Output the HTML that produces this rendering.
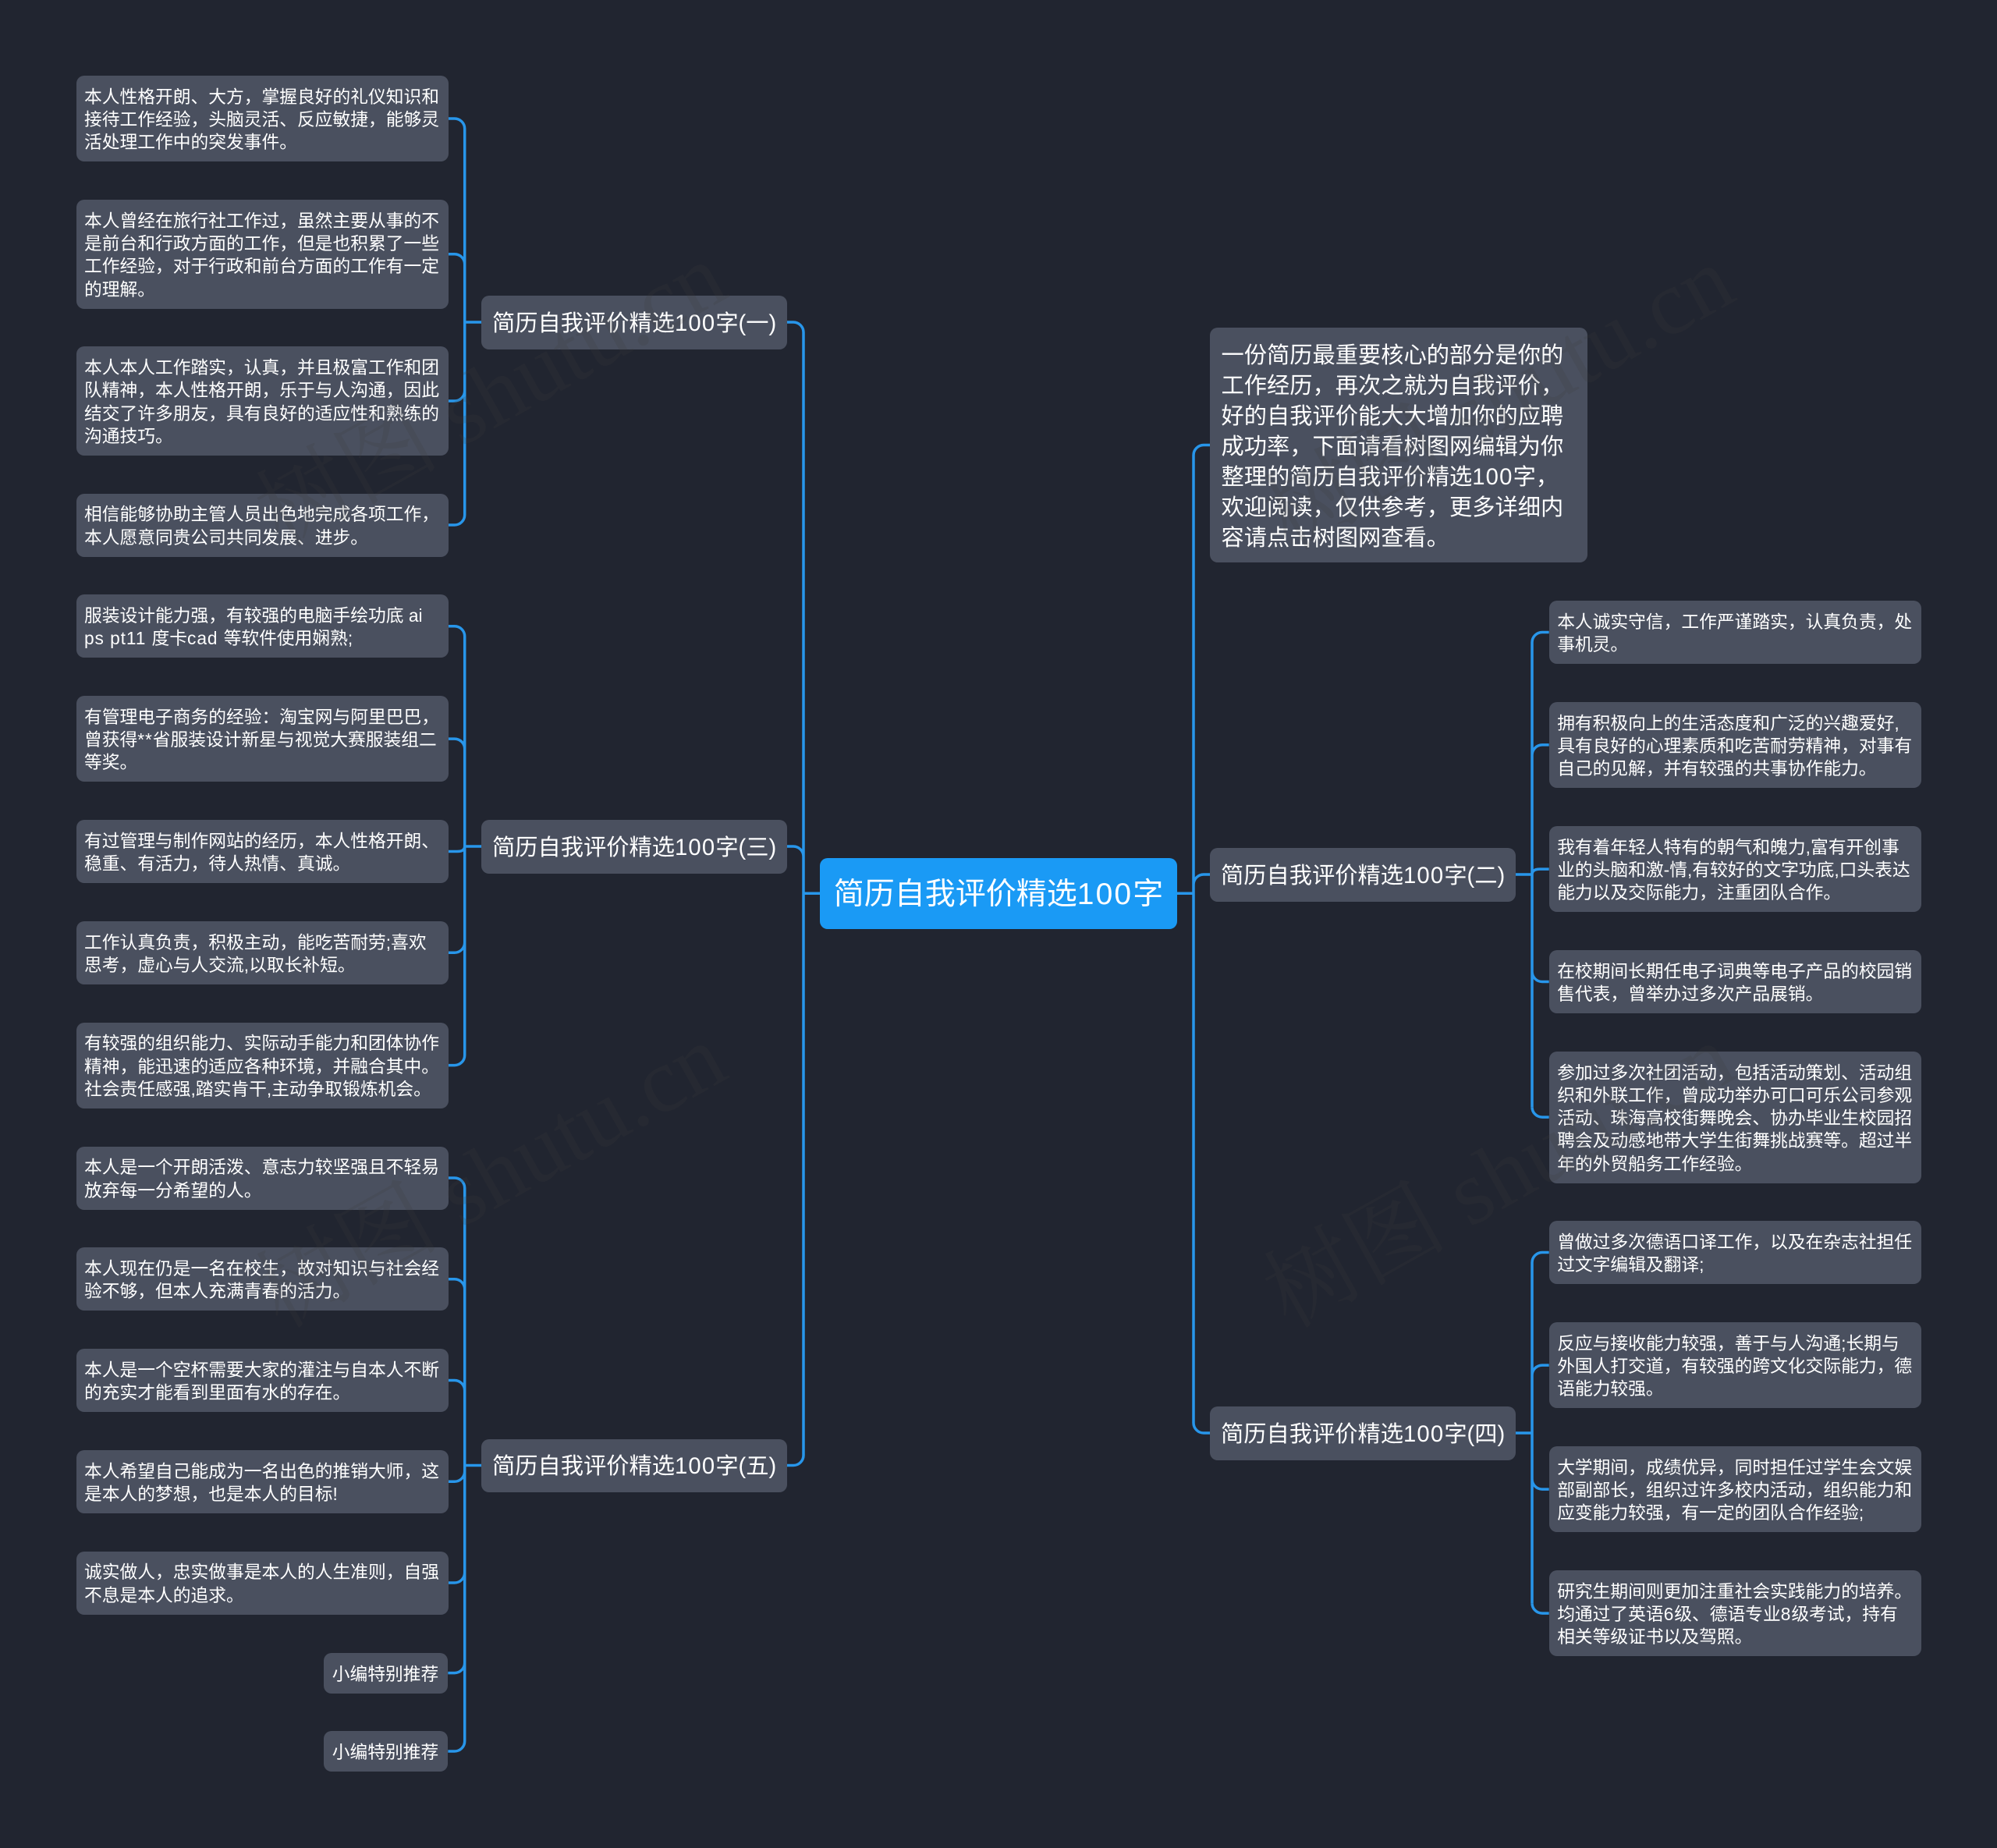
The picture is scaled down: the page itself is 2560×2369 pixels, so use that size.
<!DOCTYPE html>
<html lang="zh-CN"><head><meta charset="utf-8"><title>简历自我评价精选100字</title>
<style>
html,body{margin:0;padding:0;background:#212530}
#c{position:relative;width:2560px;height:2369px;overflow:hidden;background:#212530;font-family:"Liberation Sans","Noto Sans CJK SC",sans-serif;color:#fff}
.n{position:absolute;box-sizing:border-box;background:#4a505f;border-radius:10px;white-space:nowrap}
.l{font-size:22.75px;line-height:29.25px;padding:12.85px 0 0 10.5px;width:477px;left:97.5px}
.r{left:1985.7px}
.b{font-size:29.25px;line-height:68.5px;height:68.5px;width:392px;padding:1.6px 0 0 14px}
.i{font-size:29.25px;line-height:39px;left:1551px;top:420px;width:484px;height:301px;padding:16.6px 0 0 14.5px}
.o{background:#1a9af5;font-size:39px;line-height:90.7px;left:1051px;top:1100px;width:458px;height:90.7px;padding-top:2.4px;text-align:center}
.l i,.b i,.i i{font-style:normal;letter-spacing:.04em}
.o i{font-style:normal;letter-spacing:.055em}
svg{position:absolute;left:0;top:0}
</style></head><body><div id="c">
<svg width="2560" height="2369" fill="none" stroke="#2896ea" stroke-width="3.5">
<path d="M1030 426V1866M1009 413H1017A13 13 0 0 1 1030 426M1009 1085H1017A13 13 0 0 1 1030 1098M1009 1878.5H1017A13 13 0 0 0 1030 1865.5M1030 1145.3H1051"/>
<path d="M1530 583.5V1824M1551 570.5H1543A13 13 0 0 0 1530 583.5M1551 1121H1543A13 13 0 0 0 1530 1134M1551 1837H1543A13 13 0 0 1 1530 1824M1509 1145.3H1530"/>
<path d="M595.7 165V660M574.3 152H582.7A13 13 0 0 1 595.7 165M574.3 325.75H582.7A13 13 0 0 1 595.7 338.75M574.3 514H582.7A13 13 0 0 0 595.7 501M574.3 673H582.7A13 13 0 0 0 595.7 660M595.7 413H617"/>
<path d="M595.7 815.75V1352.6M574.3 802.75H582.7A13 13 0 0 1 595.7 815.75M574.3 947.1H582.7A13 13 0 0 1 595.7 960.1M574.3 1091.5H586Q595.7 1091.5 595.7 1085M574.3 1221.25H582.7A13 13 0 0 0 595.7 1208.25M574.3 1365.6H582.7A13 13 0 0 0 595.7 1352.6M595.7 1085H617"/>
<path d="M595.7 1523V2232M574.3 1510H582.7A13 13 0 0 1 595.7 1523M574.3 1639.75H582.7A13 13 0 0 1 595.7 1652.75M574.3 1769.5H582.7A13 13 0 0 1 595.7 1782.5M574.3 1899.25H582.7A13 13 0 0 0 595.7 1886.25M574.3 2029H582.7A13 13 0 0 0 595.7 2016M574.3 2144.6H582.7A13 13 0 0 0 595.7 2131.6M574.3 2245H582.7A13 13 0 0 0 595.7 2232M595.7 1878.5H617"/>
<path d="M1964 823.5V1419M1985.7 810.5H1977A13 13 0 0 0 1964 823.5M1985.7 954.9H1977A13 13 0 0 0 1964 967.9M1985.7 1114.1H1974Q1964 1114.1 1964 1121M1985.7 1258.5H1977A13 13 0 0 1 1964 1245.5M1985.7 1432.1H1977A13 13 0 0 1 1964 1419.1M1943 1121H1964"/>
<path d="M1964 1618.5V2055M1985.7 1605.5H1977A13 13 0 0 0 1964 1618.5M1985.7 1750.1H1977A13 13 0 0 0 1964 1763.1M1985.7 1909.1H1977A13 13 0 0 1 1964 1896.1M1985.7 2068.1H1977A13 13 0 0 1 1964 2055.1M1943 1837H1964"/>
</svg>

<div class="n o">简历自我评价精选<i>100</i>字</div>
<div class="n i">一份简历最重要核心的部分是你的<br>工作经历，再次之就为自我评价，<br>好的自我评价能大大增加你的应聘<br>成功率，下面请看树图网编辑为你<br>整理的简历自我评价精选<i>100</i>字，<br>欢迎阅读，仅供参考，更多详细内<br>容请点击树图网查看。</div>

<div class="n b" style="left:617px;top:379px">简历自我评价精选<i>100</i>字(一)</div>
<div class="n b" style="left:617px;top:1051px">简历自我评价精选<i>100</i>字(三)</div>
<div class="n b" style="left:617px;top:1844.5px">简历自我评价精选<i>100</i>字(五)</div>
<div class="n b" style="left:1551px;top:1087px">简历自我评价精选<i>100</i>字(二)</div>
<div class="n b" style="left:1551px;top:1803px">简历自我评价精选<i>100</i>字(四)</div>

<div class="n l" style="top:97px;height:110.25px">本人性格开朗、大方，掌握良好的礼仪知识和<br>接待工作经验，头脑灵活、反应敏捷，能够灵<br>活处理工作中的突发事件。</div>
<div class="n l" style="top:256px;height:139.5px">本人曾经在旅行社工作过，虽然主要从事的不<br>是前台和行政方面的工作，但是也积累了一些<br>工作经验，对于行政和前台方面的工作有一定<br>的理解。</div>
<div class="n l" style="top:444.25px;height:139.5px">本人本人工作踏实，认真，并且极富工作和团<br>队精神，本人性格开朗，乐于与人沟通，因此<br>结交了许多朋友，具有良好的适应性和熟练的<br>沟通技巧。</div>
<div class="n l" style="top:632.5px;height:81px">相信能够协助主管人员出色地完成各项工作，<br>本人愿意同贵公司共同发展、进步。</div>
<div class="n l" style="top:762.25px;height:81px">服装设计能力强，有较强的电脑手绘功底 ai<br><i>ps pt11 </i>度卡<i>cad </i>等软件使用娴熟;</div>
<div class="n l" style="top:892px;height:110.25px">有管理电子商务的经验：淘宝网与阿里巴巴，<br>曾获得<i>**</i>省服装设计新星与视觉大赛服装组二<br>等奖。</div>
<div class="n l" style="top:1051px;height:81px">有过管理与制作网站的经历，本人性格开朗、<br>稳重、有活力，待人热情、真诚。</div>
<div class="n l" style="top:1180.75px;height:81px">工作认真负责，积极主动，能吃苦耐劳;喜欢<br>思考，虚心与人交流,以取长补短。</div>
<div class="n l" style="top:1310.5px;height:110.25px">有较强的组织能力、实际动手能力和团体协作<br>精神，能迅速的适应各种环境，并融合其中。<br>社会责任感强,踏实肯干,主动争取锻炼机会。</div>
<div class="n l" style="top:1469.5px;height:81px">本人是一个开朗活泼、意志力较坚强且不轻易<br>放弃每一分希望的人。</div>
<div class="n l" style="top:1599.25px;height:81px">本人现在仍是一名在校生，故对知识与社会经<br>验不够，但本人充满青春的活力。</div>
<div class="n l" style="top:1729px;height:81px">本人是一个空杯需要大家的灌注与自本人不断<br>的充实才能看到里面有水的存在。</div>
<div class="n l" style="top:1858.75px;height:81px">本人希望自己能成为一名出色的推销大师，这<br>是本人的梦想，也是本人的目标!</div>
<div class="n l" style="top:1988.5px;height:81px">诚实做人，忠实做事是本人的人生准则，自强<br>不息是本人的追求。</div>
<div class="n l" style="top:2119px;left:415.3px;width:159px;height:51.75px">小编特别推荐</div>
<div class="n l" style="top:2219.2px;left:415.3px;width:159px;height:51.75px">小编特别推荐</div>

<div class="n l r" style="top:770px;height:81px">本人诚实守信，工作严谨踏实，认真负责，处<br>事机灵。</div>
<div class="n l r" style="top:899.75px;height:110.25px">拥有积极向上的生活态度和广泛的兴趣爱好,<br>具有良好的心理素质和吃苦耐劳精神，对事有<br>自己的见解，并有较强的共事协作能力。</div>
<div class="n l r" style="top:1059px;height:110.25px">我有着年轻人特有的朝气和魄力,富有开创事<br>业的头脑和激-情,有较好的文字功底,口头表达<br>能力以及交际能力，注重团队合作。</div>
<div class="n l r" style="top:1218px;height:81px">在校期间长期任电子词典等电子产品的校园销<br>售代表，曾举办过多次产品展销。</div>
<div class="n l r" style="top:1347.75px;height:168.75px">参加过多次社团活动，包括活动策划、活动组<br>织和外联工作，曾成功举办可口可乐公司参观<br>活动、珠海高校街舞晚会、协办毕业生校园招<br>聘会及动感地带大学生街舞挑战赛等。超过半<br>年的外贸船务工作经验。</div>
<div class="n l r" style="top:1565px;height:81px">曾做过多次德语口译工作，以及在杂志社担任<br>过文字编辑及翻译;</div>
<div class="n l r" style="top:1695px;height:110.25px">反应与接收能力较强，善于与人沟通;长期与<br>外国人打交道，有较强的跨文化交际能力，德<br>语能力较强。</div>
<div class="n l r" style="top:1854px;height:110.25px">大学期间，成绩优异，同时担任过学生会文娱<br>部副部长，组织过许多校内活动，组织能力和<br>应变能力较强，有一定的团队合作经验;</div>
<div class="n l r" style="top:2013px;height:110.25px">研究生期间则更加注重社会实践能力的培养。<br>均通过了英语<i>6</i>级、德语专业<i>8</i>级考试，持有<br>相关等级证书以及驾照。</div>

<svg width="2560" height="2369" font-family="'Liberation Serif','Noto Serif CJK SC',serif" font-size="118" fill="rgba(62,62,62,.18)">
<text transform="translate(360 703) rotate(-29.3)">树图 shutu.cn</text>
<text transform="translate(1652 707) rotate(-29.3)">树图 shutu.cn</text>
<text transform="translate(360 1704) rotate(-29.3)">树图 shutu.cn</text>
<text transform="translate(1652 1704) rotate(-29.3)">树图 shutu.cn</text>
</svg>
</div></body></html>
